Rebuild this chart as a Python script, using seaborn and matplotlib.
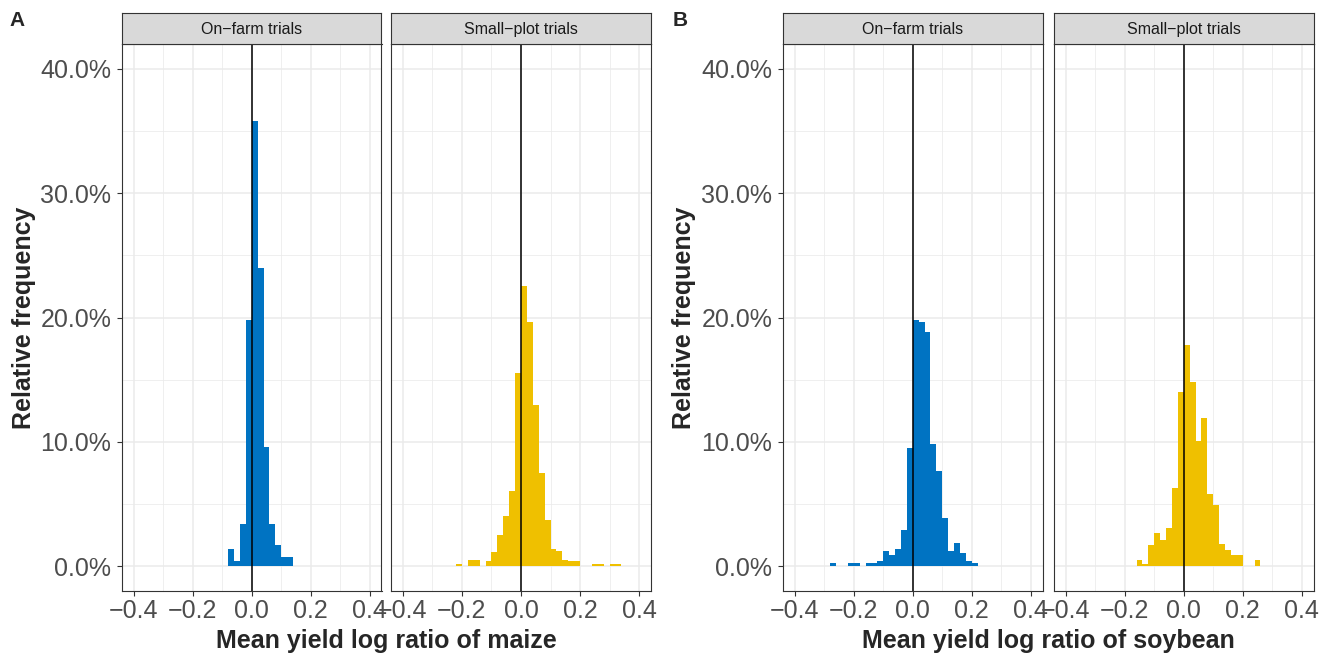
import numpy as np
import pandas as pd
import matplotlib
matplotlib.use("Agg")
import matplotlib.pyplot as plt
import seaborn as sns

# bin centres (log ratio) and relative frequency (%)
maize_onfarm_x = [-0.07, -0.05, -0.03, -0.01, 0.01, 0.03, 0.05, 0.07, 0.09, 0.11, 0.13]
maize_onfarm_pct = [1.4, 0.4, 3.4, 19.8, 35.8, 24.0, 9.6, 3.4, 1.7, 0.7, 0.7]

maize_small_x = [-0.21, -0.17, -0.15, -0.11, -0.09, -0.07, -0.05, -0.03, -0.01, 0.01, 0.03, 0.05,
                 0.07, 0.09, 0.11, 0.13, 0.15, 0.17, 0.19, 0.25, 0.27, 0.31, 0.33]
maize_small_pct = [0.16, 0.48, 0.48, 0.40, 1.12, 2.5, 4.04, 6.05, 15.5, 22.5, 19.6, 13.0,
                   7.5, 3.7, 1.39, 1.2, 0.51, 0.40, 0.40, 0.16, 0.16, 0.16, 0.16]

soy_onfarm_x = [-0.27, -0.21, -0.19, -0.15, -0.13, -0.11, -0.09, -0.07, -0.05, -0.03, -0.01, 0.01,
                0.03, 0.05, 0.07, 0.09, 0.11, 0.13, 0.15, 0.17, 0.19, 0.21]
soy_onfarm_pct = [0.22, 0.22, 0.22, 0.22, 0.22, 0.38, 1.19, 0.86, 1.37, 2.9, 9.5, 19.8,
                  19.6, 18.8, 9.8, 7.65, 3.85, 1.19, 1.83, 1.02, 0.38, 0.22]

soy_small_x = [-0.15, -0.13, -0.11, -0.09, -0.07, -0.05, -0.03, -0.01, 0.01, 0.03, 0.05, 0.07,
               0.09, 0.11, 0.13, 0.15, 0.17, 0.19, 0.25]
soy_small_pct = [0.48, 0.21, 1.66, 2.63, 2.09, 3.03, 6.25, 14.0, 17.8, 14.8, 10.1, 11.9,
                 5.84, 4.88, 1.82, 1.26, 0.86, 0.86, 0.48]

facets = ["On\u2212farm trials", "Small\u2212plot trials"]
x_ticks = [-0.4, -0.2, 0.0, 0.2, 0.4]
x_tick_labels = ["\u22120.4", "\u22120.2", "0.0", "0.2", "0.4"]
y_ticks = [0, 10, 20, 30, 40]
y_tick_labels = ["0.0%", "10.0%", "20.0%", "30.0%", "40.0%"]

BLUE = "#0073C2"
YELLOW = "#EFC000"

sns.set_style("white")
plt.rcParams['font.family'] = ['Liberation Sans', 'DejaVu Sans']

W, H = 1335, 657
fig = plt.figure(figsize=(W / 100, H / 100), dpi=100)


def box(l, r, t, b):
    return [l / W, 1 - b / H, (r - l) / W, (b - t) / H]


bins = [round(v, 2) for v in np.arange(-0.30, 0.3601, 0.02)]
PANEL_TOP, PANEL_BOT = 44, 591
STRIP_TOP = 13


def draw_facet(l, r, xs, ys, color, title, first):
    ax = fig.add_axes(box(l, r, PANEL_TOP, PANEL_BOT))
    df = pd.DataFrame({"x": xs, "pct": ys})
    sns.histplot(data=df, x="x", weights="pct", bins=bins, color=color, alpha=1,
                 linewidth=0, ax=ax)
    ax.axvline(0, color="black", lw=1.1, zorder=5)
    ax.set_xlim(-0.44, 0.44)
    ax.set_ylim(-2, 42)
    ax.set_xticks(x_ticks)
    ax.set_xticklabels(x_tick_labels)
    ax.set_xticks([-0.3, -0.1, 0.1, 0.3], minor=True)
    ax.set_yticks(y_ticks)
    ax.set_yticks([5, 15, 25, 35], minor=True)
    ax.set_xlabel("")
    ax.set_ylabel("")
    ax.grid(which="major", color="#EBEBEB", lw=1.1)
    ax.grid(which="minor", color="#EBEBEB", lw=0.55)
    ax.set_axisbelow(True)
    ax.tick_params(which="major", length=3.6, width=0.8, color="#333333",
                   labelcolor="#4D4D4D", labelsize=18, pad=2)
    ax.tick_params(axis="y", which="major", pad=4)
    ax.tick_params(which="minor", length=0)
    if first:
        ax.set_yticklabels(y_tick_labels)
        ax.tick_params(axis="y", left=True)
    else:
        ax.tick_params(axis="y", which="both", left=False, labelleft=False)
    ax.tick_params(axis="x", bottom=True)
    for s in ax.spines.values():
        s.set_color("#333333")
        s.set_linewidth(0.8)
    # facet strip
    st = fig.add_axes(box(l, r, STRIP_TOP, PANEL_TOP))
    st.set_facecolor("#D9D9D9")
    st.set_xticks([])
    st.set_yticks([])
    for s in st.spines.values():
        s.set_color("#333333")
        s.set_linewidth(0.8)
    st.text(0.5, 0.47, title, ha="center", va="center", fontsize=11.5,
            color="#1A1A1A", transform=st.transAxes)
    return ax


draw_facet(122, 381.5, maize_onfarm_x, maize_onfarm_pct, BLUE, facets[0], True)
draw_facet(391, 651, maize_small_x, maize_small_pct, YELLOW, facets[1], False)
draw_facet(783, 1042.5, soy_onfarm_x, soy_onfarm_pct, BLUE, facets[0], True)
draw_facet(1054, 1313.5, soy_small_x, soy_small_pct, YELLOW, facets[1], False)

mid_y = 1 - (PANEL_TOP + PANEL_BOT) / 2 / H
fig.text(24 / W, mid_y, "Relative frequency", rotation=90, ha="center", va="center",
         fontsize=18, fontweight="bold")
fig.text(684 / W, mid_y, "Relative frequency", rotation=90, ha="center", va="center",
         fontsize=18, fontweight="bold")
fig.text(386.5 / W, 1 - 641 / H, "Mean yield log ratio of maize", ha="center", va="center",
         fontsize=18, fontweight="bold")
fig.text(1048 / W, 1 - 641 / H, "Mean yield log ratio of soybean", ha="center", va="center",
         fontsize=18, fontweight="bold")
fig.text(17 / W, 1 - 20 / H, "A", ha="center", va="center", fontsize=15, fontweight="bold")
fig.text(680 / W, 1 - 20 / H, "B", ha="center", va="center", fontsize=15, fontweight="bold")

fig.savefig("out.png", dpi=100)
